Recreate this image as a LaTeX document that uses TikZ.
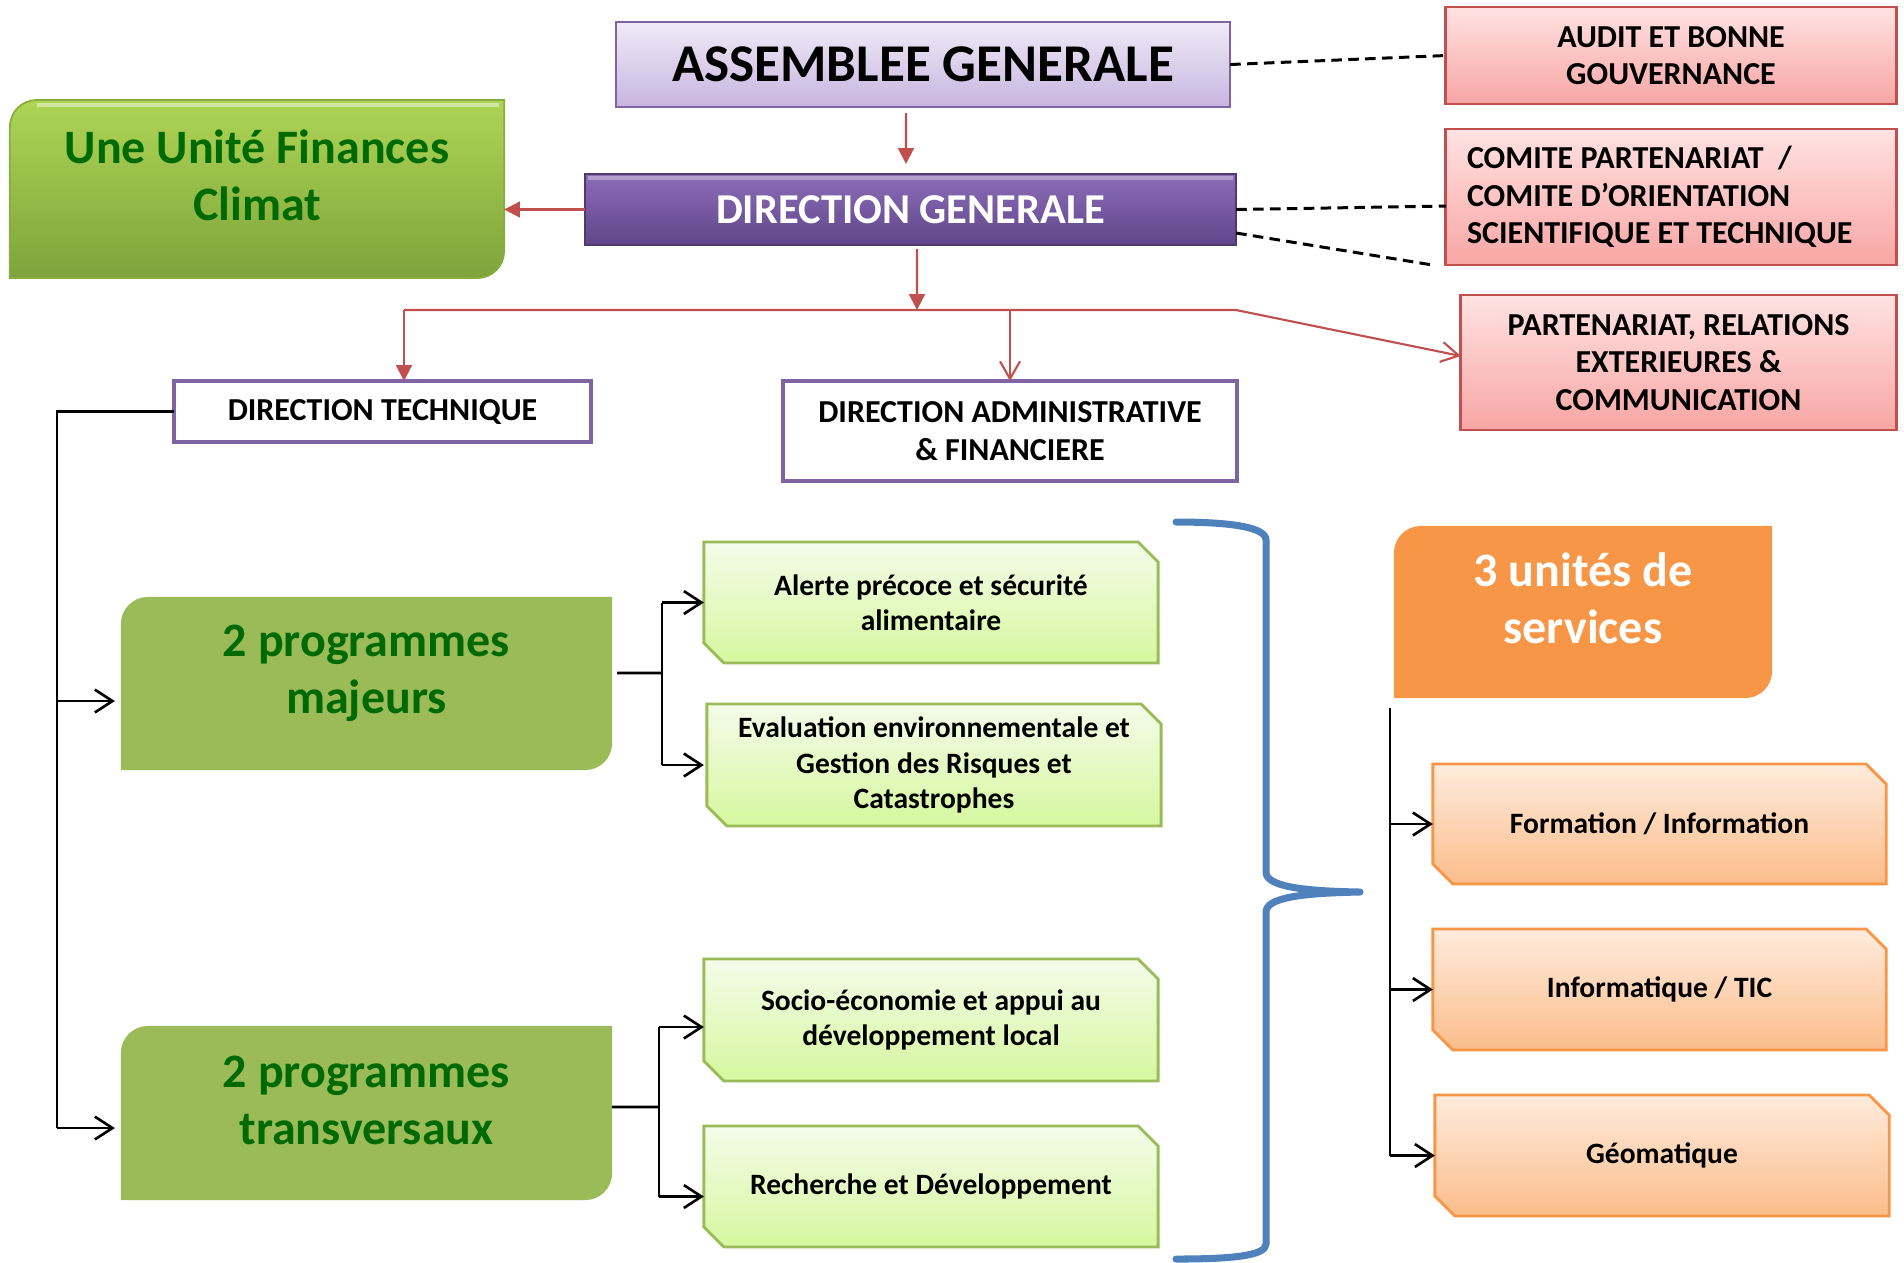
\documentclass[tikz,border=0pt]{standalone}
\usepackage{fontspec}
\setmainfont{Carlito}
\usetikzlibrary{arrows.meta,backgrounds,calc}

\definecolor{purp}{HTML}{8064A2}
\definecolor{agtop}{HTML}{EFEAF7}
\definecolor{agbot}{HTML}{C8B5E0}
\definecolor{dgtop}{HTML}{8C6DB8}
\definecolor{dgbot}{HTML}{60468A}
\definecolor{dgedge}{HTML}{4E3A6E}
\definecolor{untop}{HTML}{AED555}
\definecolor{unbot}{HTML}{7EA33B}
\definecolor{unedge}{HTML}{86AD3F}
\definecolor{prog}{HTML}{9BBB59}
\definecolor{dkgreen}{HTML}{006A00}
\definecolor{pktop}{HTML}{FFE2E2}
\definecolor{pkbot}{HTML}{F7A6A4}
\definecolor{pkedge}{HTML}{C0504D}
\definecolor{gstop}{HTML}{F4FCEA}
\definecolor{gsbot}{HTML}{D6F79E}
\definecolor{ostop}{HTML}{FEEBDD}
\definecolor{osbot}{HTML}{FBBD8A}
\definecolor{orng}{HTML}{F79646}
\definecolor{redc}{HTML}{C0504D}
\definecolor{bluec}{HTML}{4F81BD}

\newcommand\rdshape[2]{%
  \path[#2] ([yshift=-0.27cm]#1.north west) .. controls ([yshift=-0.12cm]#1.north west) and ([xshift=0.12cm]#1.north west) .. ([xshift=0.27cm]#1.north west)
   -- (#1.north east) -- ([yshift=0.27cm]#1.south east) .. controls ([yshift=0.12cm]#1.south east) and ([xshift=-0.12cm]#1.south east) .. ([xshift=-0.27cm]#1.south east)
   -- (#1.south west) -- cycle;}
\newcommand\snipshape[2]{%
  \path[#2] (#1.north west) -- ([xshift=-0.2cm]#1.north east) -- ([yshift=-0.2cm]#1.north east)
   -- (#1.south east) -- ([xshift=0.2cm]#1.south west) -- ([yshift=0.2cm]#1.south west) -- cycle;}

\tikzset{
  plain/.style={inner sep=0pt, outer sep=0pt},
  capfont/.style={font=\fontsize{9.1}{10.7}\selectfont\bfseries},
  smallfont/.style={font=\fontsize{8.4}{10}\selectfont\bfseries},
  bigfont/.style={font=\fontsize{13.65}{16.2}\selectfont\bfseries},
  agbox/.style={plain, minimum width=6.14cm, minimum height=0.85cm, top color=agtop, bottom color=agbot, draw=purp, line width=0.6pt, font=\fontsize{15.1}{18}\selectfont\bfseries},
  dgbox/.style={plain, minimum width=6.51cm, minimum height=0.71cm, top color=dgtop, bottom color=dgbot, draw=dgedge, line width=0.5pt, text=white, font=\fontsize{12.1}{15}\selectfont\bfseries},
  pinkbox/.style={plain, capfont, align=center, top color=pktop, bottom color=pkbot, draw=pkedge, line width=0.8pt},
  whitebox/.style={plain, capfont, align=center, fill=white, draw=purp, line width=1.2pt},
  snipnode/.style={plain, smallfont, align=center, minimum width=4.54cm},
  bigtxt/.style={plain, bigfont, align=center},
  unitefill/.style={top color=untop, bottom color=unbot, draw=unedge, line width=0.5pt},
  progfill/.style={fill=prog},
  orfill/.style={fill=orng},
  gsnip/.style={top color=gstop, bottom color=gsbot, draw=prog, line width=0.8pt},
  osnip/.style={top color=ostop, bottom color=osbot, draw=orng, line width=0.8pt},
  redln/.style={draw=redc, line width=0.6pt},
  redtip/.style={-{Triangle[length=4.5pt,width=4.5pt]}},
  redbarb/.style={-{Straight Barb[length=5pt,width=5.7pt]}},
  blk/.style={draw=black, line width=0.75pt},
  dsh/.style={draw=black, line width=0.85pt, dash pattern=on 3pt off 1.8pt},
  bracestyle/.style={draw=bluec, line width=2pt, line cap=round, line join=round},
}

\begin{document}
\begin{tikzpicture}[x=0.01cm,y=-0.01cm,>={Straight Barb[length=5pt,width=6.5pt]}]
\useasboundingbox (0,0) rectangle (1904,1262);

% top row
\node[agbox] (ag) at (923,64.5) {ASSEMBLEE GENERALE};
\node[dgbox] (dg) at (910.5,209.5) {DIRECTION GENERALE};
\node[plain, minimum width=4.94cm, minimum height=1.78cm] (unite) at (257,189) {};
\node[bigtxt, text=dkgreen] (unitet) at ([yshift=0.135cm]unite.center) {Une Unité Finances\\Climat};

\node[pinkbox, minimum width=4.50cm, minimum height=0.97cm] (audit) at (1671,55.5) {AUDIT ET BONNE\\GOUVERNANCE};
\node[pinkbox, minimum width=4.50cm, minimum height=1.36cm] (comite) at (1671,197) {};
\node[plain, capfont, align=left, anchor=west] (comitet) at (1467,197) {COMITE PARTENARIAT\ \ /\\COMITE D’ORIENTATION\\SCIENTIFIQUE ET TECHNIQUE};
\node[pinkbox, minimum width=4.35cm, minimum height=1.35cm] (part) at (1678.5,362.5) {PARTENARIAT, RELATIONS\\EXTERIEURES \&\\COMMUNICATION};

\node[whitebox, minimum width=4.17cm, minimum height=0.61cm] (dt) at (382.5,411.5) {DIRECTION TECHNIQUE};
\node[whitebox, minimum width=4.54cm, minimum height=1.00cm] (daf) at (1010,431) {DIRECTION ADMINISTRATIVE\\\& FINANCIERE};

% programmes
\node[plain, minimum width=4.91cm, minimum height=1.73cm] (maj) at (366.5,683.5) {};
\node[bigtxt, text=dkgreen] (majt) at ([yshift=0.10cm]maj.center) {2 programmes\\majeurs};
\node[plain, minimum width=4.91cm, minimum height=1.74cm] (trans) at (366.5,1113) {};
\node[bigtxt, text=dkgreen] (transt) at ([yshift=0.13cm]trans.center) {2 programmes\\transversaux};

\node[snipnode, minimum height=1.21cm] (alerte) at (931,602.5) {Alerte précoce et sécurité\\alimentaire};
\node[snipnode, minimum height=1.22cm] (eval) at (934,765) {Evaluation environnementale et\\Gestion des Risques et\\Catastrophes};
\node[snipnode, minimum height=1.22cm] (socio) at (931,1020) {Socio-économie et appui au\\développement local};
\node[snipnode, minimum height=1.21cm] (rech) at (931,1186.5) {Recherche et Développement};

% services
\node[plain, minimum width=3.78cm, minimum height=1.72cm] (unites) at (1583,612) {};
\node[bigtxt, text=white] (unitest) at ([yshift=0.14cm]unites.center) {3 unités de\\services};
\node[snipnode, minimum width=4.53cm, minimum height=1.20cm] (form) at (1659.5,824) {Formation / Information};
\node[snipnode, minimum width=4.53cm, minimum height=1.21cm] (info) at (1659.5,989.5) {Informatique / TIC};
\node[snipnode, minimum width=4.54cm, minimum height=1.21cm] (geo) at (1662,1155.5) {Géomatique};

\begin{scope}[on background layer]
  \rdshape{unite}{unitefill}
  \draw[white, opacity=0.45, line width=1.2pt] ([xshift=0.27cm,yshift=-0.05cm]unite.north west) -- ([xshift=-0.05cm,yshift=-0.05cm]unite.north east);
  \rdshape{maj}{progfill}
  \rdshape{trans}{progfill}
  \rdshape{unites}{orfill}
  \snipshape{alerte}{gsnip}
  \snipshape{eval}{gsnip}
  \snipshape{socio}{gsnip}
  \snipshape{rech}{gsnip}
  \snipshape{form}{osnip}
  \snipshape{info}{osnip}
  \snipshape{geo}{osnip}
\end{scope}
\draw[white, opacity=0.35, line width=1.2pt] ([xshift=0.03cm,yshift=-0.04cm]dg.north west) -- ([xshift=-0.03cm,yshift=-0.04cm]dg.north east);

% red connectors
\coordinate (hl) at (404,310);
\coordinate (hr) at (1236,310);
\coordinate (jn) at (917,310);
\draw[redln, redtip] ([xshift=-0.17cm,yshift=-0.06cm]ag.south) -- ([xshift=-0.045cm,yshift=0.10cm]dg.north);
\draw[redln, redtip] ([xshift=0.065cm,yshift=-0.04cm]dg.south) -- (jn);
\draw[redln, redbarb] (hl) -- (hr) -- ([yshift=0.065cm]part.west);
\draw[redln, redtip] (hl) -- (hl |- dt.north);
\draw[redln, redbarb] (jn -| daf.north) -- (daf.north);
\draw[redln, redtip] (dg.west) -- (dg.west -| unite.east);

% dashed connectors
\draw[dsh] (ag.east) -- (audit.west);
\draw[dsh] (dg.east) -- ([yshift=-0.09cm]comite.west);
\draw[dsh] ([yshift=-0.235cm]dg.east) -- ([xshift=-0.13cm]comite.south west);

% left black tree
\coordinate (lb) at (57,412);
\coordinate (t1) at ([xshift=-0.06cm,yshift=-0.175cm]maj.west);
\coordinate (t2) at ([xshift=-0.06cm,yshift=-0.15cm]trans.west);
\draw[blk] (dt.west) -- (dt.west -| lb) -- (t2 -| lb);
\draw[blk,->] (t1 -| lb) -- (t1);
\draw[blk,->] (t2 -| lb) -- (t2);

% programmes majeurs
\coordinate (mj) at (662,673);
\draw[blk] ([xshift=0.05cm,yshift=0.105cm]maj.east) -- (mj);
\draw[blk] (mj |- alerte.west) -- (mj |- eval.west);
\draw[blk,->] (mj |- alerte.west) -- (alerte.west);
\draw[blk,->] (mj |- eval.west) -- ([xshift=-0.03cm]eval.west);

% programmes transversaux
\coordinate (tj) at (659,1107);
\coordinate (s1) at ([yshift=-0.07cm]socio.west);
\coordinate (s2) at ([yshift=-0.10cm]rech.west);
\draw[blk] ([yshift=0.06cm]trans.east) -- (tj);
\draw[blk] (s1 -| tj) -- (s2 -| tj);
\draw[blk,->] (s1 -| tj) -- (s1);
\draw[blk,->] (s2 -| tj) -- (s2);

% services
\coordinate (rj) at (1390,708);
\draw[blk] (rj) -- (rj |- geo.west);
\draw[blk,->] (rj |- form.west) -- (form.west);
\draw[blk,->] (rj |- info.west) -- (info.west);
\draw[blk,->] (rj |- geo.west) -- (geo.west);

% blue brace
\draw[bracestyle] (1176,522) .. controls (1230,522) and (1266,527) .. (1266,540) -- (1266,872)
  .. controls (1266,886) and (1300,891) .. (1360,892)
  .. controls (1300,893) and (1266,898) .. (1266,912) -- (1266,1244)
  .. controls (1266,1256) and (1230,1259) .. (1176,1259);
\end{tikzpicture}
\end{document}
